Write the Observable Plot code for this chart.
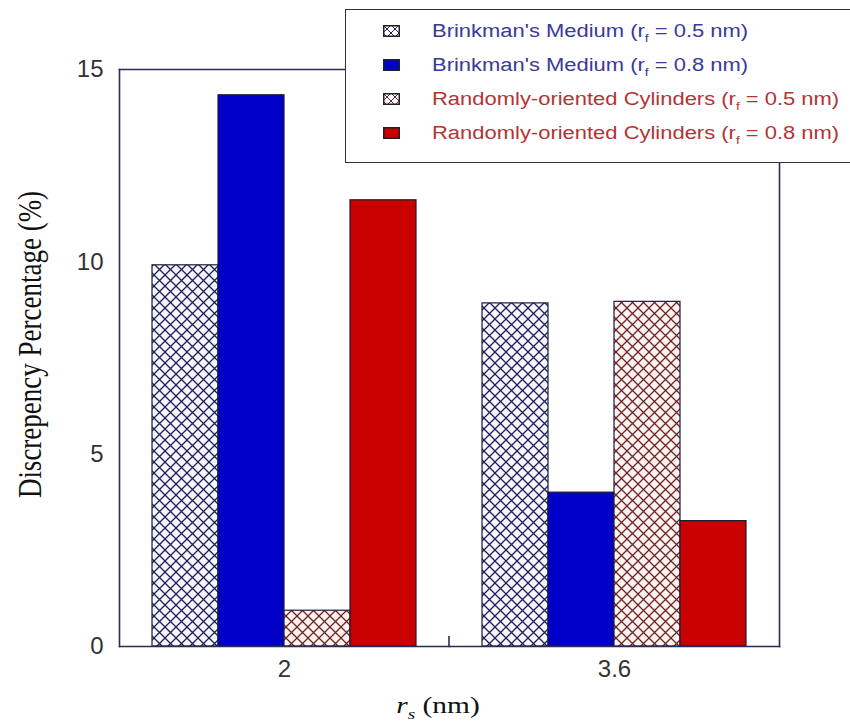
<!DOCTYPE html>
<html>
<head>
<meta charset="utf-8">
<script src="https://cdn.jsdelivr.net/npm/d3@7"></script>
<script src="https://cdn.jsdelivr.net/npm/@observablehq/plot@0.6"></script>
<style>
  body { margin: 0; background: #fff; }
  #wrap { position: relative; width: 850px; height: 725px; overflow: hidden; background: #fff; }
  #legend { position: absolute; left: 345px; top: 9px; width: 520px; height: 154px; box-sizing: border-box;
            border: 1.5px solid #333; background: #fff; font-family: "Liberation Sans", Arial, sans-serif; font-size: 18px; }
  .row { position: absolute; left: 0; height: 24px; width: 600px; }
  .row svg { position: absolute; left: 37px; top: 6px; }
  .row .lab { position: absolute; left: 86px; top: 0; line-height: 24px; white-space: nowrap; transform: scaleX(1.22); transform-origin: 0 50%; }
  .row sub { font-size: 0.62em; vertical-align: -0.45em; line-height: 0; }
</style>
</head>
<body>
<div id="wrap"><div id="legend"></div></div>
<script>
// ---- data ----
const groups = ["2", "3.6"];
const seriesKeys = ["bm05", "bm08", "rc05", "rc08"];
const legendNames = ["Brinkman's Medium", "Brinkman's Medium", "Randomly-oriented Cylinders", "Randomly-oriented Cylinders"];
const rfValues = ["0.5", "0.8", "0.5", "0.8"];
const bm05 = [9.91, 8.92];
const bm08 = [14.33, 4.0];
const rc05 = [0.93, 8.96];
const rc08 = [11.6, 3.26];
const yTicks = [0, 5, 10, 15];
const seriesValues = [bm05, bm08, rc05, rc08];

const data = groups.flatMap((g, gi) =>
  seriesKeys.map((s, si) => ({group: g, series: s, value: seriesValues[si][gi]})));

// ---- styles ----
const frameColor = "#2b2b55";
const fills = ["url(#hatchBlue)", "#0000c8", "url(#hatchRed)", "#c80000"];
const textColors = ["#3a3a98", "#3a3a98", "#b33434", "#b33434"];
const sx = 1.28; // horizontal text stretch of the reference

const chart = Plot.plot({
  width: 850, height: 725,
  marginLeft: 119, marginRight: 71, marginTop: 69, marginBottom: 79,
  style: {background: "transparent", color: "#333", overflow: "visible"},
  fx: {domain: groups, padding: 0, label: null},
  x: {domain: seriesKeys, paddingInner: 0, paddingOuter: 0.5, axis: null},
  y: {domain: [0, 15], label: null},
  color: {domain: seriesKeys, range: fills},
  marks: [
    Plot.barY(data, {fx: "group", x: "series", y: "value", fill: "series", stroke: "#1c1c3a", strokeWidth: 1.2}),
    Plot.frame({anchor: "top", stroke: frameColor, strokeWidth: 1.6}),
    Plot.frame({anchor: "bottom", stroke: frameColor, strokeWidth: 1.6}),
    Plot.frame({anchor: "left", facetAnchor: "left", stroke: frameColor, strokeWidth: 1.6}),
    Plot.frame({anchor: "right", facetAnchor: "right", stroke: frameColor, strokeWidth: 1.6}),
    Plot.axisY({ticks: yTicks, tickSize: 0, tickPadding: 16, fontSize: 24, label: null,
                fontFamily: "Liberation Sans, Arial, sans-serif"}),
    Plot.axisFx({anchor: "bottom", tickSize: 0, tickPadding: 13, fontSize: 24, label: null,
                 fontFamily: "Liberation Sans, Arial, sans-serif"})
  ]
});

const svgNode = chart.tagName.toLowerCase() === "svg" ? chart : chart.querySelector("svg");
const svg = d3.select(svgNode);

// hatch patterns
const defs = svg.insert("defs", ":first-child");
function hatch(id, line, bg, size) {
  const p = defs.append("pattern").attr("id", id).attr("patternUnits", "userSpaceOnUse")
    .attr("width", size).attr("height", size);
  p.append("rect").attr("width", size).attr("height", size).attr("fill", bg);
  p.append("path").attr("d", `M-1,-1L${size + 1},${size + 1}M${size + 1},-1L-1,${size + 1}`)
    .attr("stroke", line).attr("stroke-width", 1.3);
}
hatch("hatchBlue", "#1e1e5c", "#f6f6ff", 11);
hatch("hatchRed", "#6e2424", "#fff3f1", 11);

// boundary tick between the two groups
const fxS = chart.scale("fx"), yS = chart.scale("y");
const xb = fxS.apply(groups[1]);
const y0 = yS.apply(0);
svg.append("line").attr("x1", xb).attr("x2", xb).attr("y1", y0).attr("y2", y0 - 10)
  .attr("stroke", frameColor).attr("stroke-width", 1.6);

// axis titles
const yMid = (yS.apply(0) + yS.apply(15)) / 2;
svg.append("text")
  .attr("transform", `translate(15,${yMid - 13}) scale(${sx},1) rotate(-90)`)
  .attr("text-anchor", "middle").attr("dy", "0.75em")
  .attr("font-family", "Liberation Serif, Times New Roman, serif").attr("font-size", 27).attr("fill", "#111")
  .text("Discrepency Percentage (%)");

const xl = svg.append("text")
  .attr("transform", `translate(438,713) scale(${sx},1)`)
  .attr("text-anchor", "middle")
  .attr("font-family", "Liberation Serif, Times New Roman, serif").attr("font-size", 23).attr("fill", "#111");
xl.append("tspan").attr("font-style", "italic").text("r");
xl.append("tspan").attr("font-style", "italic").attr("font-size", 15).attr("dy", 6).text("s");
xl.append("tspan").attr("dy", -6).text(" (nm)");

document.getElementById("wrap").prepend(chart);

// legend
const legend = document.getElementById("legend");
const rowCenters = [21, 55, 89, 123];
seriesKeys.forEach((k, i) => {
  const row = document.createElement("div");
  row.className = "row";
  row.style.top = (rowCenters[i] - 12) + "px";
  const hatched = fills[i].startsWith("url");
  const pid = "lg" + i;
  const line = i < 2 ? "#1e1e5c" : "#6e2424";
  row.innerHTML =
    `<svg width="17" height="12" viewBox="0 0 17 12">` +
    (hatched ? `<defs><pattern id="${pid}" patternUnits="userSpaceOnUse" width="8" height="8">` +
       `<rect width="8" height="8" fill="#fff"/><path d="M-1,-1L9,9M9,-1L-1,9" stroke="${line}" stroke-width="1"/></pattern></defs>` : "") +
    `<rect x="0.75" y="0.75" width="15.5" height="10.5" fill="${hatched ? `url(#${pid})` : fills[i]}" stroke="#222" stroke-width="1.5"/></svg>` +
    `<span class="lab" style="color:${textColors[i]}">${legendNames[i]} (r<sub>f</sub> = ${rfValues[i]} nm)</span>`;
  legend.appendChild(row);
});
</script>
</body>
</html>
